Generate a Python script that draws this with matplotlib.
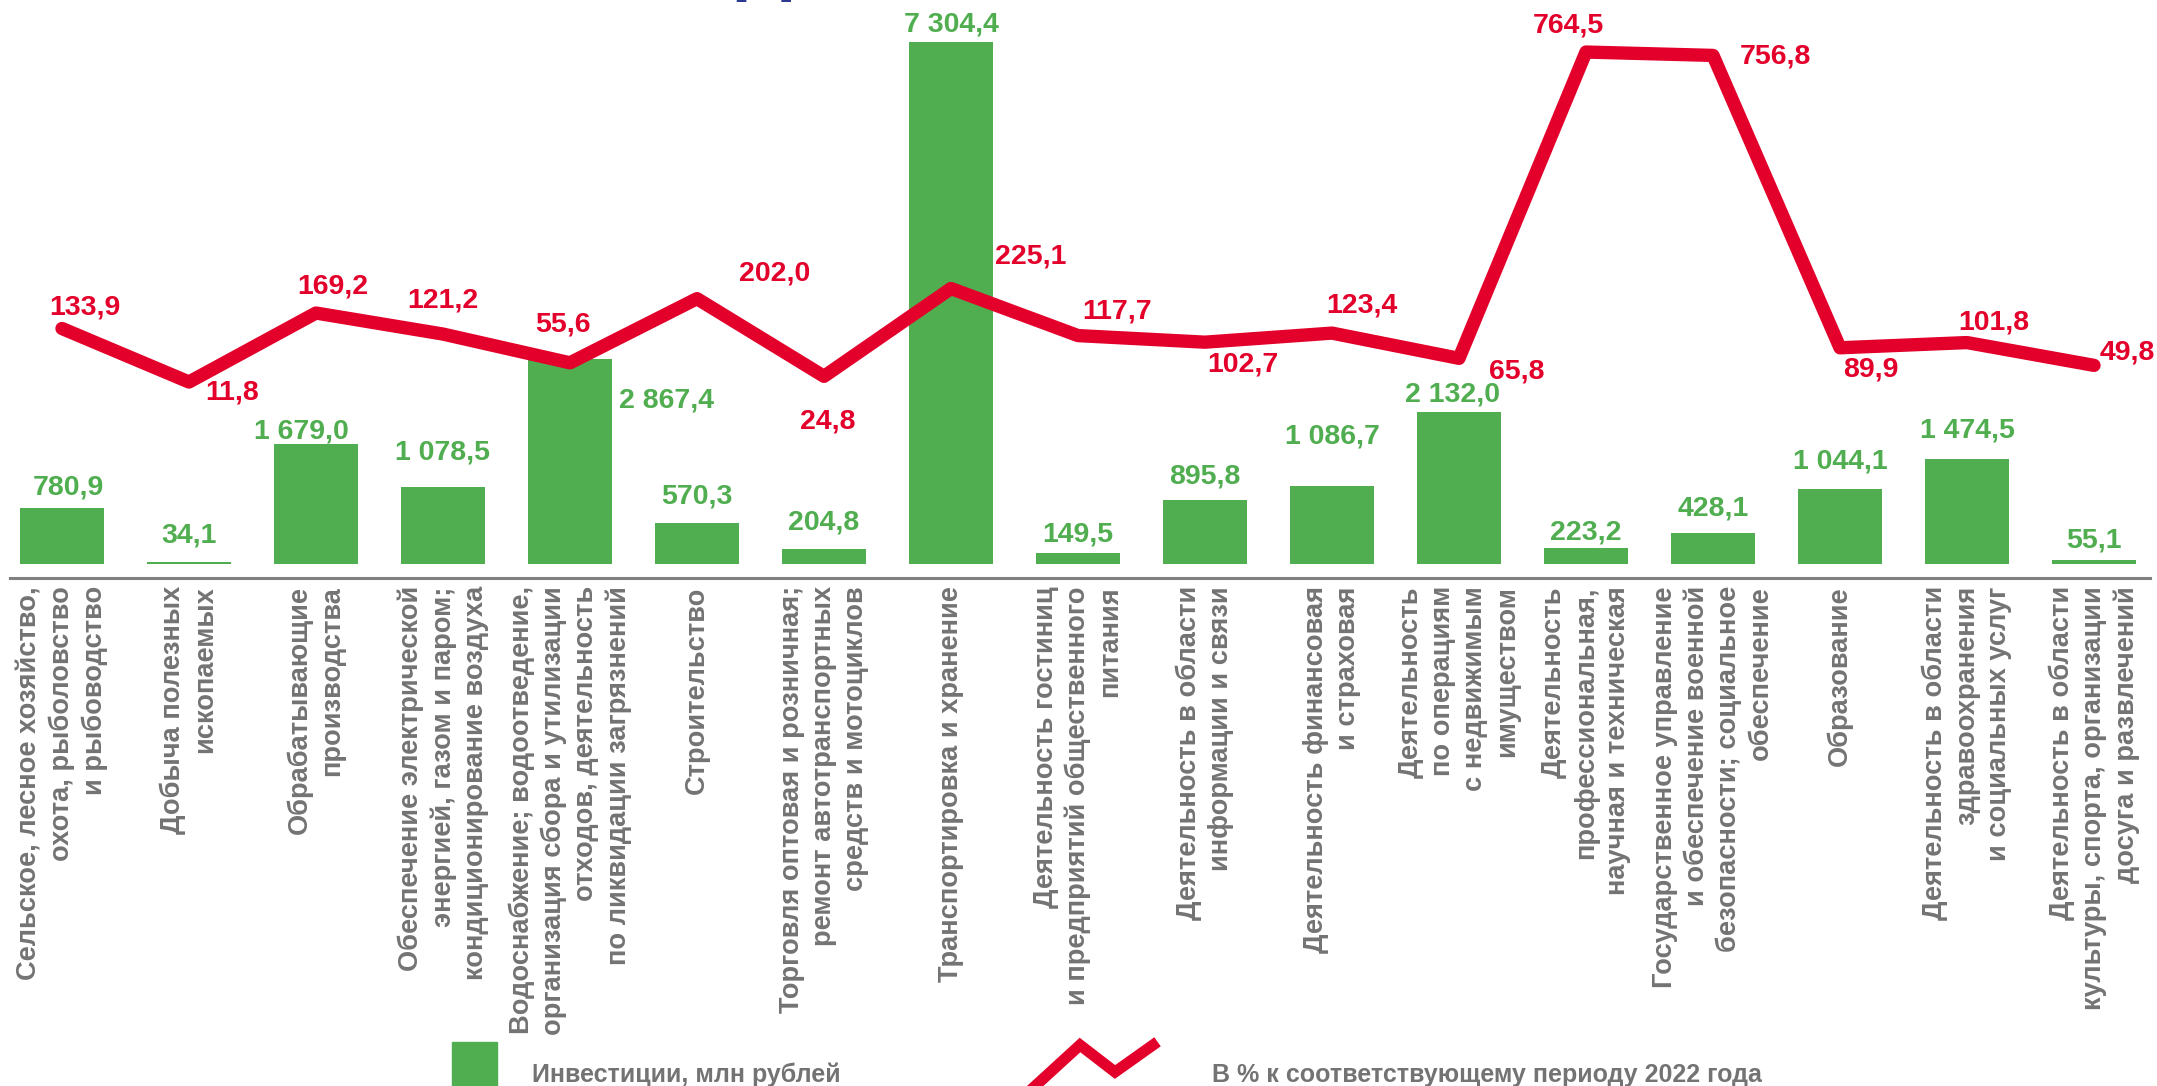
import matplotlib
matplotlib.use("Agg")
import matplotlib.pyplot as plt
from matplotlib.lines import Line2D
from matplotlib.patches import Rectangle

plt.rcParams['font.family'] = ['Liberation Sans', 'DejaVu Sans']

W, H = 2157, 1086  # output size in pixels

# Data
categories = [
    "Сельское, лесное хозяйство,\nохота, рыболовство\nи рыбоводство",
    "Добыча полезных\nископаемых",
    "Обрабатывающие\nпроизводства",
    "Обеспечение электрической\nэнергией, газом и паром;\nкондиционирование воздуха",
    "Водоснабжение; водоотведение,\nорганизация сбора и утилизации\nотходов, деятельность\nпо ликвидации загрязнений",
    "Строительство",
    "Торговля оптовая и розничная;\nремонт автотранспортных\nсредств и мотоциклов",
    "Транспортировка и хранение",
    "Деятельность гостиниц\nи предприятий общественного\nпитания",
    "Деятельность в области\nинформации и связи",
    "Деятельность финансовая\nи страховая",
    "Деятельность\nпо операциям\nс недвижимым\nимуществом",
    "Деятельность\nпрофессиональная,\nнаучная и техническая",
    "Государственное управление\nи обеспечение военной\nбезопасности; социальное\nобеспечение",
    "Образование",
    "Деятельность в области\nздравоохранения\nи социальных услуг",
    "Деятельность в области\nкультуры, спорта, организации\nдосуга и развлечений",
]
investments = [780.9, 34.1, 1679.0, 1078.5, 2867.4, 570.3, 204.8, 7304.4, 149.5,
               895.8, 1086.7, 2132.0, 223.2, 428.1, 1044.1, 1474.5, 55.1]
growth_pct = [133.9, 11.8, 169.2, 121.2, 55.6, 202.0, 24.8, 225.1, 117.7,
              102.7, 123.4, 65.8, 764.5, 756.8, 89.9, 101.8, 49.8]

legend_bar = "Инвестиции, млн рублей"
legend_line = "В % к соответствующему периоду 2022 года"

# label offsets in pixels (dx, dy up)
bar_label_off = [(6, 21), (0, 26), (-15, 13), (0, 34), (97, -41), (0, 27), (0, 27),
                 (0, 18), (0, 19), (0, 24), (0, 50), (-6, 17), (0, 16), (0, 25),
                 (0, 28), (0, 28), (0, 20)]
line_label_off = [(23, 21), (43, -10), (17, 27), (0, 34), (-7, 38), (78, 25), (4, -45),
                  (80, 32), (39, 24), (38, -22), (30, 28), (58, -13), (-18, 27),
                  (62, -1), (31, -22), (27, 20), (33, 13)]

GREEN = '#50AE50'
RED = '#E3002B'
GRAY = '#737373'


def ru(v):
    return f"{v:,.1f}".replace(",", " ").replace(".", ",")


fig = plt.figure(figsize=(W / 100, H / 100), dpi=100)
ax = fig.add_axes([0, (H - 564) / H, 1, 564 / H])
x = list(range(len(categories)))

ax.bar(x, investments, width=0.66, color=GREEN, zorder=2)
ax.set_xlim(-0.488, 16.496)
ax.set_ylim(0, 564 / 0.0714)

for i, v in enumerate(investments):
    dx, dy = bar_label_off[i]
    ax.annotate(ru(v), (i, v), xytext=(dx, dy), textcoords='offset pixels',
                ha='center', va='center', fontsize=20.5, fontweight='bold',
                color=GREEN, annotation_clip=False)

for s in ['top', 'left', 'right']:
    ax.spines[s].set_visible(False)
ax.spines['bottom'].set_position(('outward', 10))
ax.spines['bottom'].set_bounds(-0.41, 16.44)
ax.spines['bottom'].set_color('#808080')
ax.spines['bottom'].set_linewidth(2.2)
ax.set_yticks([])
ax.set_xticks(x)
ax.set_xticklabels(categories, rotation=90, ha='center', va='top',
                   multialignment='right', fontsize=19.6, fontweight='bold',
                   color=GRAY, linespacing=1.3)
ax.tick_params(axis='x', length=0, pad=6)

# line on secondary scale
ax2 = ax.twinx()
ax2.plot(x, growth_pct, color=RED, lw=9.6, solid_capstyle='round',
         solid_joinstyle='round', zorder=3)
ax2.set_ylim((387.2 - 564) / 0.4384, 387.2 / 0.4384)
for s in ax2.spines.values():
    s.set_visible(False)
ax2.set_yticks([])

for i, v in enumerate(growth_pct):
    dx, dy = line_label_off[i]
    ax2.annotate(ru(v), (i, v), xytext=(dx, dy), textcoords='offset pixels',
                 ha='center', va='center', fontsize=20.5, fontweight='bold',
                 color=RED, annotation_clip=False)

# legend at the bottom
fig.patches.append(Rectangle((452 / W, 0), 45 / W, 44 / H, transform=fig.transFigure,
                             color=GREEN, figure=fig))
fig.text(532 / W, 4 / H, legend_bar, fontweight='bold',
         fontsize=18, color=GRAY, va='baseline')
zx = [1033, 1080, 1115, 1153]
zy = [1088, 1045, 1072, 1045]
fig.lines.append(Line2D([p / W for p in zx], [(H - p) / H for p in zy],
                        transform=fig.transFigure, color=RED, lw=8,
                        solid_joinstyle='miter', figure=fig))
fig.text(1212 / W, 4 / H, legend_line, fontweight='bold',
         fontsize=18, color=GRAY, va='baseline')

# bottom of the cut-off title
fig.text(763 / W, 1 + 14 / H, "Д", ha='center', va='baseline', fontsize=57,
         fontweight='bold', color='#2B3990')

fig.savefig('out.png', dpi=100)
